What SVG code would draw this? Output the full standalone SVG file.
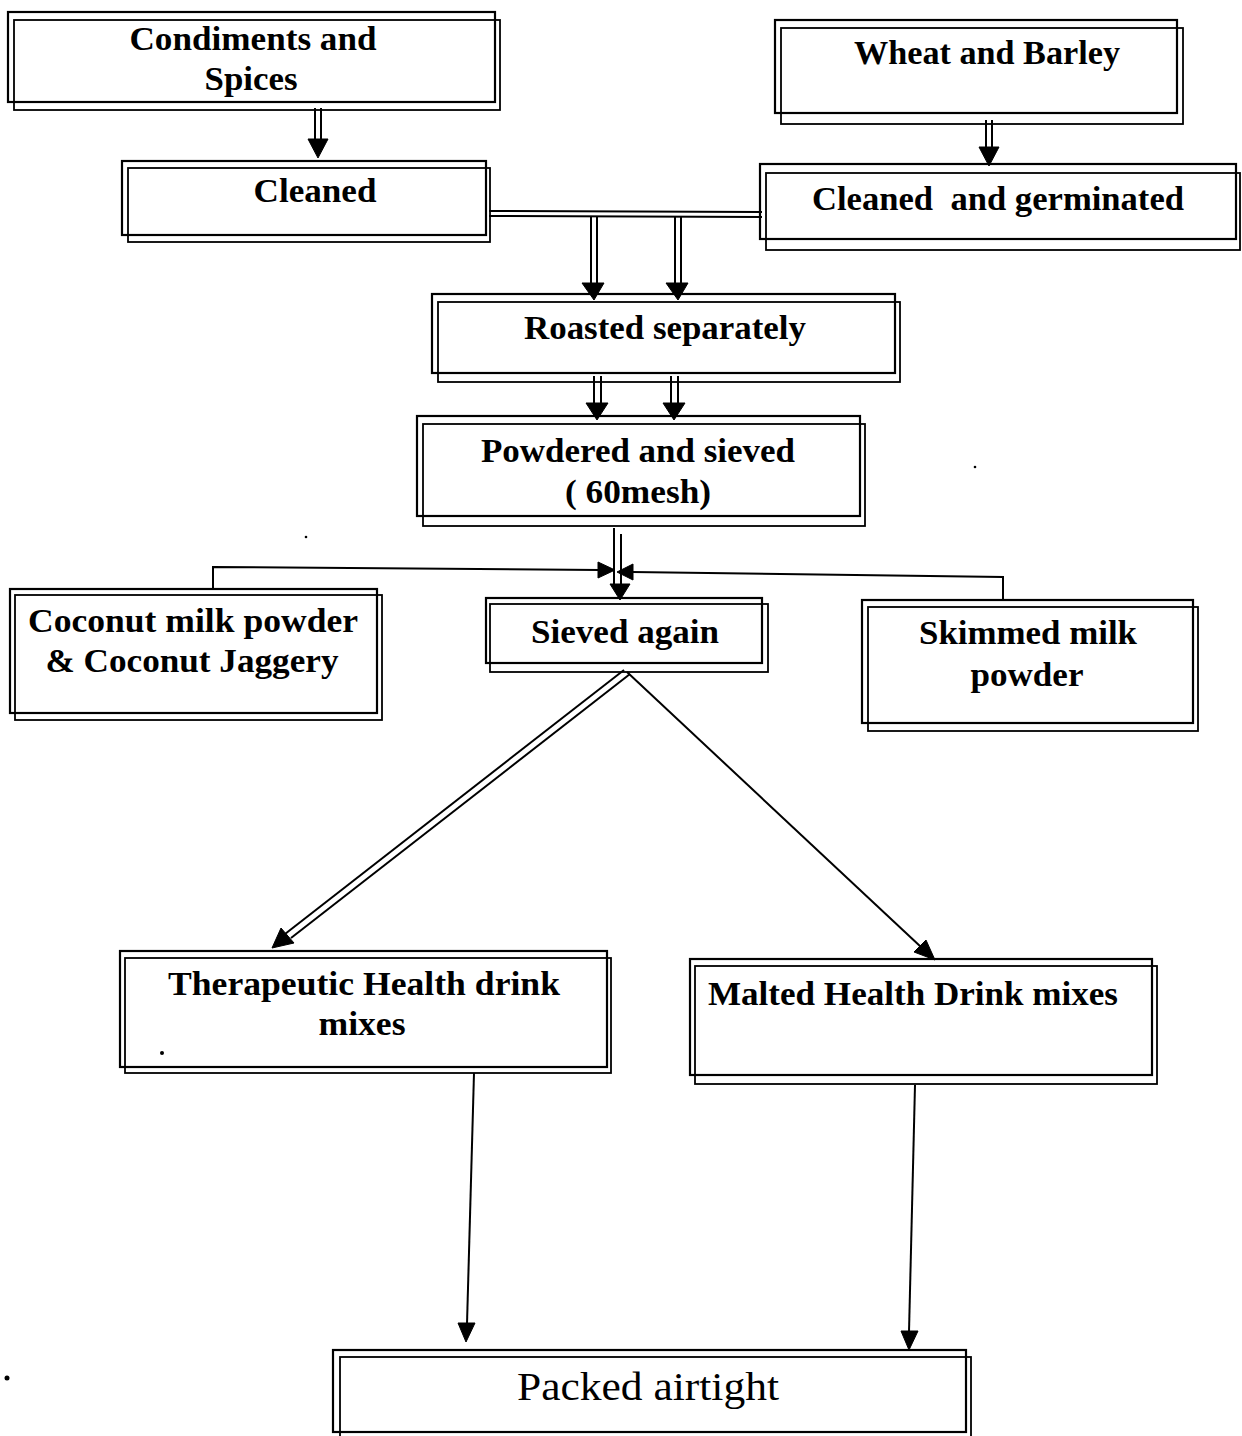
<svg xmlns="http://www.w3.org/2000/svg" width="1242" height="1436" viewBox="0 0 1242 1436">
<style>
.b{fill:none;stroke:#000;stroke-width:2.2}
.b2{fill:none;stroke:#000;stroke-width:1.8}
.t{font-family:"Liberation Serif","Times New Roman",serif;font-weight:bold;font-size:34px;fill:#000;text-anchor:middle}
.tr{font-family:"Liberation Serif","Times New Roman",serif;font-size:40px;fill:#000;text-anchor:middle}
.c{fill:none;stroke:#000;stroke-width:2}
.h{fill:#000;stroke:#000;stroke-width:1;stroke-linejoin:miter}
</style>
<rect width="1242" height="1436" fill="#fff"/>
<g id="connectors">
  <!-- Condiments -> Cleaned -->
  <line class="c" x1="315" y1="108" x2="315" y2="140"/>
  <line class="c" x1="321" y1="108" x2="321" y2="140"/>
  <polygon class="h" points="308,139 328,139 318,158"/>
  <!-- Wheat -> Cleaned and germinated -->
  <line class="c" x1="986" y1="120" x2="986" y2="148"/>
  <line class="c" x1="992" y1="120" x2="992" y2="148"/>
  <polygon class="h" points="979,147 999,147 989,166"/>
  <!-- horizontal double line between Cleaned boxes -->
  <line class="c" x1="489" y1="211" x2="762" y2="212"/>
  <line class="c" x1="489" y1="216" x2="762" y2="217"/>
  <!-- down to Roasted -->
  <line class="c" x1="591" y1="216" x2="591" y2="284"/>
  <line class="c" x1="597" y1="216" x2="597" y2="284"/>
  <polygon class="h" points="582,283 604,283 594,300"/>
  <line class="c" x1="675" y1="217" x2="675" y2="284"/>
  <line class="c" x1="681" y1="217" x2="681" y2="284"/>
  <polygon class="h" points="666,283 688,283 678,300"/>
  <!-- Roasted -> Powdered -->
  <line class="c" x1="594" y1="376" x2="594" y2="404"/>
  <line class="c" x1="601" y1="376" x2="601" y2="404"/>
  <polygon class="h" points="586,403 608,403 597,420"/>
  <line class="c" x1="671" y1="376" x2="671" y2="404"/>
  <line class="c" x1="678" y1="376" x2="678" y2="404"/>
  <polygon class="h" points="663,403 685,403 674,420"/>
  <!-- Powdered -> Sieved again -->
  <line class="c" x1="614" y1="528" x2="614" y2="586"/>
  <line class="c" x1="621" y1="534" x2="621" y2="586"/>
  <polygon class="h" points="610,584 630,584 620,600"/>
  <!-- Coconut -> junction -->
  <polyline class="c" points="213,589 213,567 600,570"/>
  <polygon class="h" points="598,562 598,578 615,570"/>
  <!-- Skimmed -> junction -->
  <polyline class="c" points="1003,600 1003,577 632,572"/>
  <polygon class="h" points="633,564 633,580 617,572"/>
  <!-- Sieved again -> Therapeutic (double) -->
  <line class="c" x1="624" y1="670" x2="285" y2="934"/>
  <line class="c" x1="630" y1="674" x2="291" y2="938"/>
  <polygon class="h" points="272,948 281,928 294,943"/>
  <!-- Sieved again -> Malted -->
  <line class="c" x1="627" y1="672" x2="921" y2="947"/>
  <polygon class="h" points="935,960 914,952 926,940"/>
  <!-- Therapeutic -> Packed -->
  <line class="c" x1="474" y1="1073" x2="467" y2="1324"/>
  <polygon class="h" points="458,1323 475,1323 466,1342"/>
  <!-- Malted -> Packed -->
  <line class="c" x1="915" y1="1085" x2="909" y2="1332"/>
  <polygon class="h" points="901,1331 918,1331 909,1350"/>
</g>
<g id="condiments">
  <rect class="b" x="8" y="12" width="487" height="90"/>
  <rect class="b2" x="14" y="20" width="486" height="90"/>
  <text class="t" x="253" y="50" textLength="247" lengthAdjust="spacingAndGlyphs">Condiments and</text>
  <text class="t" x="251" y="90" textLength="93" lengthAdjust="spacingAndGlyphs">Spices</text>
</g>
<g id="cleaned">
  <rect class="b" x="122" y="161" width="364" height="74"/>
  <rect class="b2" x="128" y="168" width="362" height="74"/>
  <text class="t" x="315" y="202" textLength="123" lengthAdjust="spacingAndGlyphs">Cleaned</text>
</g>
<g id="wheat">
  <rect class="b" x="775" y="20" width="402" height="93"/>
  <rect class="b2" x="781" y="28" width="402" height="96"/>
  <text class="t" x="987" y="64" textLength="266" lengthAdjust="spacingAndGlyphs">Wheat and Barley</text>
</g>
<g id="germinated">
  <rect class="b" x="760" y="164" width="476" height="75"/>
  <rect class="b2" x="766" y="173" width="474" height="77"/>
  <text class="t" x="998" y="210" textLength="372" lengthAdjust="spacingAndGlyphs" xml:space="preserve">Cleaned  and germinated</text>
</g>
<g id="roasted">
  <rect class="b" x="432" y="294" width="463" height="79"/>
  <rect class="b2" x="438" y="302" width="462" height="80"/>
  <text class="t" x="665" y="339" textLength="282" lengthAdjust="spacingAndGlyphs">Roasted separately</text>
</g>
<g id="powdered">
  <rect class="b" x="417" y="416" width="443" height="100"/>
  <rect class="b2" x="423" y="424" width="442" height="102"/>
  <text class="t" x="638" y="462" textLength="314" lengthAdjust="spacingAndGlyphs">Powdered and sieved</text>
  <text class="t" x="638" y="503" textLength="146" lengthAdjust="spacingAndGlyphs" xml:space="preserve">( 60mesh)</text>
</g>
<g id="coconut">
  <rect class="b" x="10" y="589" width="367" height="124"/>
  <rect class="b2" x="15" y="595" width="367" height="125"/>
  <text class="t" x="193" y="632" textLength="330" lengthAdjust="spacingAndGlyphs">Coconut milk powder</text>
  <text class="t" x="192" y="672" textLength="293" lengthAdjust="spacingAndGlyphs">&amp; Coconut Jaggery</text>
</g>
<g id="sieved">
  <rect class="b" x="486" y="598" width="276" height="65"/>
  <rect class="b2" x="490" y="604" width="278" height="68"/>
  <text class="t" x="625" y="643" textLength="188" lengthAdjust="spacingAndGlyphs">Sieved again</text>
</g>
<g id="skimmed">
  <rect class="b" x="862" y="600" width="331" height="123"/>
  <rect class="b2" x="868" y="607" width="330" height="124"/>
  <text class="t" x="1028" y="644" textLength="218" lengthAdjust="spacingAndGlyphs">Skimmed milk</text>
  <text class="t" x="1027" y="686" textLength="113" lengthAdjust="spacingAndGlyphs">powder</text>
</g>
<g id="therapeutic">
  <rect class="b" x="120" y="951" width="487" height="116"/>
  <rect class="b2" x="125" y="958" width="486" height="115"/>
  <text class="t" x="364" y="995" textLength="392" lengthAdjust="spacingAndGlyphs">Therapeutic Health drink</text>
  <text class="t" x="362" y="1035" textLength="87" lengthAdjust="spacingAndGlyphs">mixes</text>
</g>
<g id="malted">
  <rect class="b" x="690" y="959" width="462" height="116"/>
  <rect class="b2" x="695" y="966" width="462" height="118"/>
  <text class="t" x="913" y="1005" textLength="410" lengthAdjust="spacingAndGlyphs">Malted Health Drink mixes</text>
</g>
<g id="packed">
  <rect class="b" x="333" y="1350" width="633" height="82"/>
  <rect class="b2" x="340" y="1357" width="631" height="84"/>
  <text class="tr" x="648" y="1400" textLength="262" lengthAdjust="spacingAndGlyphs">Packed airtight</text>
</g>
<g id="specks" fill="#000">
  <circle cx="162" cy="1053" r="2"/>
  <circle cx="7" cy="1378" r="2.5"/>
  <circle cx="975" cy="467" r="1.3"/>
  <circle cx="306" cy="537" r="1.3"/>
</g>
</svg>
